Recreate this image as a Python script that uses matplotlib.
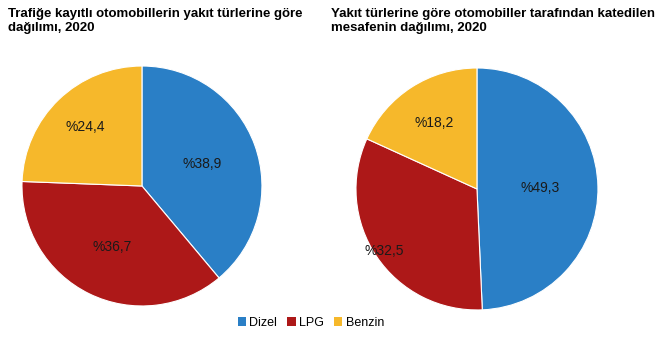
import matplotlib.pyplot as plt
import numpy as np
from matplotlib.patches import Patch

plt.rcParams['font.family'] = ['Liberation Sans', 'DejaVu Sans']

categories = ['Dizel', 'LPG', 'Benzin']
colors = ['#2a7fc6', '#ad1818', '#f6b82b']

# share of registered cars, %
cars = [38.9, 36.7, 24.4]
# share of distance travelled, %
distance = [49.3, 32.5, 18.2]

title1 = 'Trafiğe kayıtlı otomobillerin yakıt türlerine göre\ndağılımı, 2020'
title2 = 'Yakıt türlerine göre otomobiller tarafından katedilen\nmesafenin dağılımı, 2020'

fig = plt.figure(figsize=(6.69, 3.41), dpi=100)


def draw_pie(rect, values, label_r):
    ax = fig.add_axes(rect)
    wedges, _ = ax.pie(values, colors=colors, startangle=90, counterclock=False,
                       radius=1, wedgeprops=dict(linewidth=0.8, edgecolor='white'))
    for w, v, r in zip(wedges, values, label_r):
        ang = np.deg2rad((w.theta1 + w.theta2) / 2)
        txt = '%' + ('%.1f' % v).replace('.', ',')
        ax.text(r * np.cos(ang), r * np.sin(ang), txt, ha='center', va='center',
                fontsize=10, color='#1a1a1a')
    ax.set_xlim(-1, 1)
    ax.set_ylim(-1, 1)
    ax.set_aspect('equal')
    ax.axis('off')
    return ax


draw_pie([142 / 669 - 0.1794, (341 - 186) / 341 - 0.3519, 0.3587, 0.7038], cars, [0.53, 0.57, 0.68])
draw_pie([477 / 669 - 0.1809, (341 - 189) / 341 - 0.3548, 0.3617, 0.7097], distance, [0.52, 0.92, 0.65])

fig.text(8 / 669, 1 - 8 / 341, title1, ha='left', va='top', fontsize=9.5,
         fontweight='bold', linespacing=1.25)
fig.text(331 / 669, 1 - 8 / 341, title2, ha='left', va='top', fontsize=9.5,
         fontweight='bold', linespacing=1.25)

handles = [Patch(facecolor=c, edgecolor='none') for c in colors]
fig.legend(handles, categories, loc='center', bbox_to_anchor=(311 / 669, 1 - 323 / 341),
           ncol=3, frameon=False, fontsize=9, handlelength=0.65, handleheight=0.65,
           handletextpad=0.3, columnspacing=0.8)

fig.savefig('out.png', dpi=100, facecolor='white')
